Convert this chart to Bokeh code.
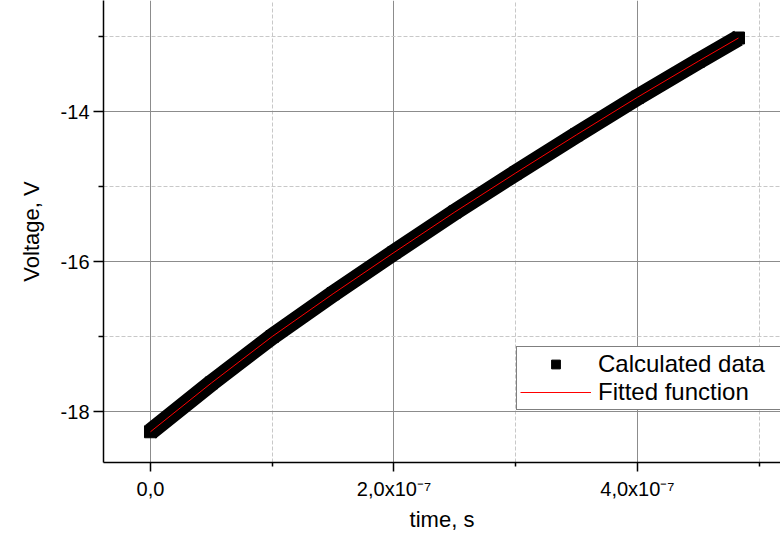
from bokeh.plotting import figure
from bokeh.models import FixedTicker, Range1d, Legend, LegendItem
from bokeh.embed import file_html
from bokeh.resources import INLINE

# --- data ---
t_data = [0.0, 0.5e-7, 1.0e-7, 1.5e-7, 2.0e-7, 2.5e-7, 3.0e-7, 3.5e-7, 4.0e-7, 4.5e-7, 4.83e-7]
v_data = [-18.27, -17.62, -17.00, -16.43, -15.88, -15.34, -14.82, -14.31, -13.81, -13.33, -13.02]

t_fit = [0.0, 0.5e-7, 1.0e-7, 1.5e-7, 2.0e-7, 2.5e-7, 3.0e-7, 3.5e-7, 4.0e-7, 4.5e-7, 4.83e-7]
v_fit = [-18.27, -17.62, -17.00, -16.43, -15.88, -15.34, -14.82, -14.31, -13.81, -13.33, -13.02]

x_ticks = [0.0, 2e-7, 4e-7]
x_tick_labels = ["0,0", "2,0x10\u207b\u2077", "4,0x10\u207b\u2077"]
x_minor = [1e-7, 3e-7, 5e-7]
y_ticks = [-18, -16, -14]
y_tick_labels = ["-18", "-16", "-14"]
y_minor = [-17, -15, -13]

FONT = "Liberation Sans"

p = figure(width=780, height=535, output_backend="svg", toolbar_location=None,
           x_range=Range1d(-3.86e-8, 5.175e-7), y_range=Range1d(-18.68, -12.52),
           min_border_left=103, min_border_right=0, min_border_top=0, min_border_bottom=73)
p.outline_line_color = None
p.background_fill_color = "white"

# band of calculated data
p.line(t_data, v_data, line_color="black", line_width=17, line_join="round")
calc = p.scatter(t_data, v_data, marker="square", size=12, fill_color="black", line_color="black")
fit = p.line(t_fit, v_fit, line_color="#ff0000", line_width=1)

# axes
for ax in (p.xaxis[0], p.yaxis[0]):
    ax.axis_line_color = "black"
    ax.axis_line_width = 1.5
    ax.major_tick_line_color = "black"
    ax.major_tick_line_width = 1.5
    ax.minor_tick_line_color = "black"
    ax.minor_tick_line_width = 1.5
    ax.major_tick_in = 0
    ax.minor_tick_in = 0
    ax.major_label_text_font = FONT
    ax.major_label_text_font_size = "20px"
    ax.major_label_text_color = "black"
    ax.axis_label_text_font = FONT
    ax.axis_label_text_font_size = "22px"
    ax.axis_label_text_font_style = "normal"
    ax.axis_label_text_color = "black"

p.xaxis.ticker = FixedTicker(ticks=x_ticks, minor_ticks=x_minor)
p.yaxis.ticker = FixedTicker(ticks=y_ticks, minor_ticks=y_minor)
p.xaxis.major_label_overrides = dict(zip(x_ticks, x_tick_labels))
p.yaxis.major_label_overrides = dict(zip(y_ticks, y_tick_labels))
p.xaxis.major_tick_out = 9
p.xaxis.minor_tick_out = 4
p.yaxis.major_tick_out = 10
p.yaxis.minor_tick_out = 5
p.xaxis.major_label_standoff = 6
p.yaxis.major_label_standoff = 4
p.xaxis.axis_label = "time, s"
p.yaxis.axis_label = "Voltage, V"
p.xaxis.axis_label_standoff = 4
p.yaxis.axis_label_standoff = 14

# grids
for g in (p.xgrid[0], p.ygrid[0]):
    g.grid_line_color = "#8c8c8c"
    g.grid_line_width = 1
    g.minor_grid_line_color = "#c8c8c8"
    g.minor_grid_line_dash = "4 2"
    g.minor_grid_line_width = 1

legend = Legend(items=[LegendItem(label="Calculated data", renderers=[calc]),
                       LegendItem(label="Fitted function", renderers=[fit])],
                location=(413, 52), padding=3, spacing=0, margin=0,
                glyph_width=71, glyph_height=22, label_height=22,
                label_width=200, label_standoff=7,
                label_text_font=FONT, label_text_font_size="24px",
                label_text_color="black", label_text_line_height=1.0,
                border_line_color="black", border_line_width=1,
                background_fill_color="white", background_fill_alpha=1.0)
p.add_layout(legend)

open("out.html", "w").write(file_html(p, INLINE))
